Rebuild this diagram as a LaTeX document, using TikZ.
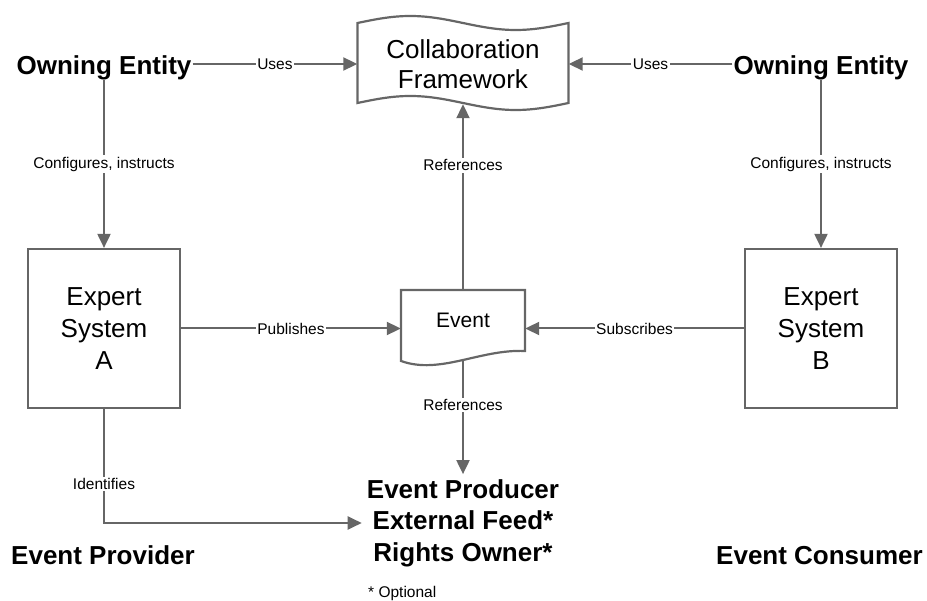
\documentclass[tikz,border=0pt]{standalone}
\usepackage{fontspec}
\setmainfont{Liberation Sans}
\usetikzlibrary{arrows.meta}
\definecolor{linegray}{HTML}{666666}

\begin{document}
\begin{tikzpicture}[x=1pt, y=-1pt,
  line/.style={draw=linegray, line width=2pt},
  arr/.style={line, -{Triangle[length=14pt, width=13pt]}},
  lbl/.style={fill=white, inner sep=1.5pt, font=\fontsize{15.5}{18}\selectfont},
  bold/.style={font=\fontsize{26}{31.5}\selectfont\bfseries, align=center},
  plain/.style={font=\fontsize{26}{32}\selectfont, align=center},
  sysbox/.style={plain, draw=linegray, line width=2.2pt,
    minimum width=152pt, minimum height=159pt, inner sep=0pt}]
  \useasboundingbox (0,0) rectangle (927,601);

  % wavy frame and event sheet
  \draw[line, line width=2.2pt] (357.5,23) sin (410.25,16) cos (463,23) sin (515.75,30) cos (568.5,23)
    -- (568.5,103) sin (515.75,110) cos (463,103) sin (410.25,96) cos (357.5,103) -- cycle;
  \draw[line, line width=2.2pt] (401,290) -- (525,290) -- (525,351)
    .. controls (480,349) and (440,375) .. (401,361) -- cycle;

  \node[plain, font=\fontsize{26}{30}\selectfont, minimum width=211pt, minimum height=80pt,
    inner sep=0pt] (collab) at (463,64) {Collaboration\\Framework};
  \node[font=\fontsize{21}{25}\selectfont, text height=15pt, text depth=10pt,
    minimum width=124pt, minimum height=71pt, inner sep=0pt] (event) at (463,325.5) {Event};
  \node[sysbox] (esA) at (104,328.5) {Expert\\System\\A};
  \node[sysbox] (esB) at (821,328.5) {Expert\\System\\B};

  \node[bold, anchor=base, text height=26pt, text depth=4pt, inner sep=1pt] (ownA) at (104,75) {Owning Entity};
  \node[bold, anchor=base, text height=26pt, text depth=4pt, inner sep=1pt] (ownB) at (821,75) {Owning Entity};
  \node[bold, inner sep=5pt] (producer) at (463,523) {Event Producer\\External Feed*\\Rights Owner*};
  \node[bold, anchor=base] (provider) at (103,564) {Event Provider};
  \node[bold, anchor=base] (consumer) at (819.5,565) {Event Consumer};
  \node[lbl, fill=none, inner sep=0pt, anchor=base west] (note) at (368,597) {* Optional};

  \draw[arr] (ownA.east) -- node[lbl] {Uses} (collab.west);
  \draw[arr] (ownB.west) -- node[lbl] {Uses} (collab.east);
  \draw[arr] (ownA.south) -- node[lbl] {Configures, instructs} (esA.north);
  \draw[arr] (ownB.south) -- node[lbl] {Configures, instructs} (esB.north);
  \draw[arr] (esA.east) -- node[lbl] {Publishes} (esA.east -| event.west);
  \draw[arr] (esB.west) -- node[lbl] {Subscribes} (esB.west -| event.east);
  \draw[arr] (event.north) -- node[lbl, pos=0.67] {References} (collab.south);
  \draw[arr] (event.south) -- node[lbl, pos=0.39] {References} (producer.north);
  \draw[arr] (esA.south) |- node[lbl, pos=0.33] {Identifies} (producer.west);
\end{tikzpicture}
\end{document}
